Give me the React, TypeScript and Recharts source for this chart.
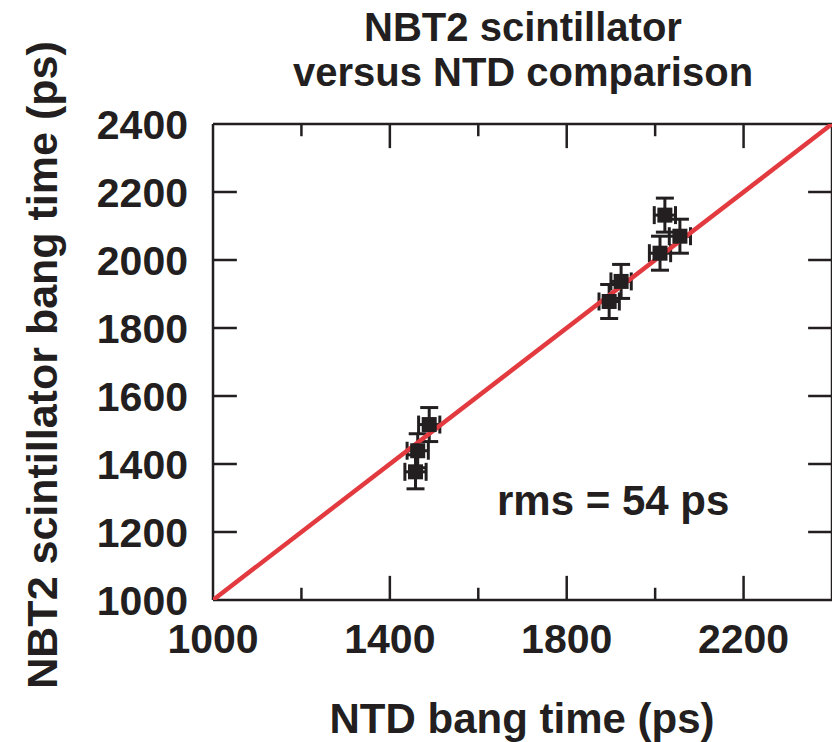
import React from "react";
import {
  ScatterChart,
  Scatter,
  XAxis,
  YAxis,
  ErrorBar,
  ReferenceLine,
} from "recharts";

// NTD bang time (ps) vs NBT2 scintillator bang time (ps)
const ntdTime = [1489, 1463, 1458, 1923, 1896, 2022, 2056, 2011];
const nbtTime = [1516, 1439, 1377, 1937, 1878, 2132, 2070, 2020];
const ntdErr = [24, 24, 24, 23, 23, 24, 24, 24];
const nbtErr = [50, 50, 50, 50, 50, 50, 50, 50];

const identityLine = [1000, 2400];
const axisTicks = [1000, 1200, 1400, 1600, 1800, 2000, 2200, 2400];
const xLabelTicks = [1000, 1400, 1800, 2200];
const innerTicks = [1200, 1400, 1600, 1800, 2000, 2200];
const xMajorTicks = [1400, 1800, 2200];

const title = ["NBT2 scintillator", "versus NTD comparison"];
const xTitle = "NTD bang time (ps)";
const yTitle = "NBT2 scintillator bang time (ps)";
const note = "rms = 54 ps";

const points = ntdTime.map((x, i) => ({
  x,
  y: nbtTime[i],
  ex: ntdErr[i],
  ey: nbtErr[i],
}));
const lineData = identityLine.map((v) => ({ x: v, y: v }));

const INK = "#231f20";
const RED = "#e23a3f";
const FONT = "'Liberation Sans', Arial, Helvetica, sans-serif";

const W = 832;
const H = 742;

const SquareMark = (p: any) => (
  <rect x={p.cx - 7.5} y={p.cy - 7.5} width={15} height={15} fill={INK} />
);

export default function App() {
  const tickStyle = { fontFamily: FONT, fontWeight: 700, fontSize: 41, fill: INK };
  const xTickLen = (v: number) => (xMajorTicks.includes(v) ? 71 : 36);
  return (
    <div style={{ position: "relative", width: W, height: H, background: "#fff" }}>
      <style>{"body{margin:0}"}</style>
      <ScatterChart
        width={W}
        height={H}
        margin={{ top: 124, right: 0, bottom: 82, left: 153 }}
      >
        <XAxis
          type="number"
          dataKey="x"
          domain={[1000, 2400]}
          ticks={axisTicks}
          interval={0}
          tickFormatter={(v: number) => (xLabelTicks.includes(v) ? String(v) : "")}
          tick={tickStyle}
          tickLine={false}
          tickSize={0}
          tickMargin={24}
          height={60}
          axisLine={{ stroke: INK, strokeWidth: 2.5 }}
          allowDataOverflow
        />
        <YAxis
          type="number"
          dataKey="y"
          domain={[1000, 2400]}
          ticks={axisTicks}
          interval={0}
          tick={tickStyle}
          tickLine={false}
          tickSize={0}
          tickMargin={25}
          width={60}
          axisLine={{ stroke: INK, strokeWidth: 2.5 }}
          allowDataOverflow
        />
        <ReferenceLine y={2400} stroke={INK} strokeWidth={2.5} />
        <ReferenceLine x={2400} stroke={INK} strokeWidth={2.5} />
        {innerTicks.map((v) => (
          <ReferenceLine
            key={"xb" + v}
            segment={[{ x: v, y: 1000 }, { x: v, y: 1000 + xTickLen(v) }]}
            stroke={INK}
            strokeWidth={2.5}
          />
        ))}
        {innerTicks.map((v) => (
          <ReferenceLine
            key={"xt" + v}
            segment={[{ x: v, y: 2400 }, { x: v, y: 2400 - xTickLen(v) }]}
            stroke={INK}
            strokeWidth={2.5}
          />
        ))}
        {innerTicks.map((v) => (
          <ReferenceLine
            key={"yl" + v}
            segment={[{ x: 1000, y: v }, { x: 1054, y: v }]}
            stroke={INK}
            strokeWidth={2.5}
          />
        ))}
        {innerTicks.map((v) => (
          <ReferenceLine
            key={"yr" + v}
            segment={[{ x: 2400, y: v }, { x: 2346, y: v }]}
            stroke={INK}
            strokeWidth={2.5}
          />
        ))}
        <Scatter
          data={lineData}
          line={{ stroke: RED, strokeWidth: 4.5 }}
          shape={() => <g />}
          isAnimationActive={false}
          legendType="none"
        />
        <Scatter
          data={points}
          shape={SquareMark}
          fill={INK}
          isAnimationActive={false}
        >
          <ErrorBar dataKey="ey" direction="y" width={9} stroke={INK} strokeWidth={3} />
          <ErrorBar dataKey="ex" direction="x" width={9} stroke={INK} strokeWidth={3} />
        </Scatter>
      </ScatterChart>

      <div
        style={{
          position: "absolute",
          left: 0,
          width: 1046,
          top: 5,
          textAlign: "center",
          fontFamily: FONT,
          fontWeight: 700,
          fontSize: 40,
          lineHeight: "45px",
          color: INK,
          whiteSpace: "nowrap",
        }}
      >
        <div>{title[0]}</div>
        <div>{title[1]}</div>
      </div>

      <div
        style={{
          position: "absolute",
          left: 0,
          width: 1044,
          top: 694,
          textAlign: "center",
          fontFamily: FONT,
          fontWeight: 700,
          fontSize: 42,
          lineHeight: "50px",
          color: INK,
          whiteSpace: "nowrap",
        }}
      >
        {xTitle}
      </div>

      <div
        style={{
          position: "absolute",
          left: 42 - 375,
          top: 365 - 25,
          width: 750,
          height: 50,
          textAlign: "center",
          fontFamily: FONT,
          fontWeight: 700,
          fontSize: 43,
          lineHeight: "50px",
          color: INK,
          whiteSpace: "nowrap",
          transform: "rotate(-90deg)",
        }}
      >
        {yTitle}
      </div>

      <div
        style={{
          position: "absolute",
          left: 497,
          top: 476,
          fontFamily: FONT,
          fontWeight: 700,
          fontSize: 42,
          lineHeight: "50px",
          color: INK,
          whiteSpace: "nowrap",
        }}
      >
        {note}
      </div>
    </div>
  );
}
